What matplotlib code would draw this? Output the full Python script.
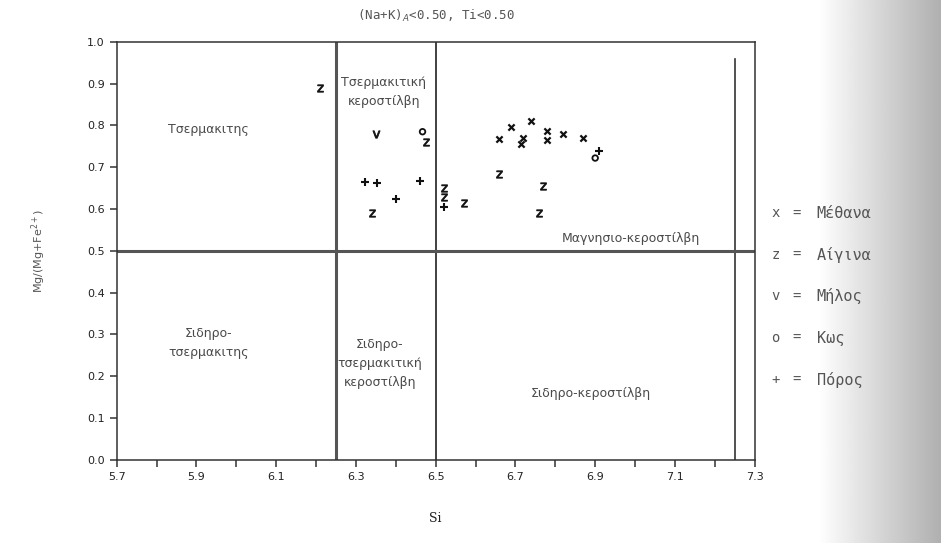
import numpy as np
import matplotlib
matplotlib.use("Agg")
import matplotlib.pyplot as plt

# sample points (Si, Mg/(Mg+Fe2+))
methana_si = [6.66, 6.69, 6.74, 6.72, 6.715, 6.78, 6.78, 6.82, 6.87]
methana_mg = [0.768, 0.797, 0.81, 0.77, 0.755, 0.787, 0.766, 0.78, 0.77]
aigina_si = [6.21, 6.475, 6.34, 6.52, 6.52, 6.57, 6.66, 6.77, 6.76]
aigina_mg = [0.89, 0.76, 0.59, 0.65, 0.63, 0.615, 0.684, 0.655, 0.59]
milos_si = [6.35]
milos_mg = [0.78]
kos_si = [6.467, 6.90]
kos_mg = [0.785, 0.722]
poros_si = [6.323, 6.353, 6.46, 6.40, 6.52, 6.91]
poros_mg = [0.665, 0.663, 0.667, 0.624, 0.605, 0.74]

# field boundaries
si_bounds = [6.25, 6.5, 7.25]
mg_bound = 0.5

field_names = ["Τσερμακιτης", "Σιδηρο-\nτσερμακιτης", "Τσερμακιτική\nκεροστίλβη",
               "Σιδηρο-\nτσερμακιτική\nκεροστίλβη", "Μαγνησιο-κεροστίλβη",
               "Σιδηρο-κεροστίλβη"]
field_si = [5.93, 5.93, 6.37, 6.36, 6.99, 6.89]
field_mg = [0.79, 0.28, 0.88, 0.23, 0.53, 0.16]

legend_syms = ["x", "z", "v", "o", "+"]
legend_names = ["Μέθανα", "Αίγινα", "Μήλος", "Κως", "Πόρος"]

ink = "#333333"
txt = "#4a4a4a"

fig = plt.figure(figsize=(9.41, 5.43), dpi=100)

# scanner shadow on the right edge
bg = fig.add_axes([0.87, 0, 0.13, 1], zorder=-5)
grad = np.linspace(1.0, 0.78, 200) ** 1.5
bg.imshow(np.tile(grad, (10, 1)), cmap="gray", vmin=0, vmax=1, aspect="auto",
          extent=[0, 1, 0, 1])
bg.axis("off")

ax = fig.add_axes([0.124, 0.153, 0.678, 0.77])
ax.set_xlim(5.7, 7.3)
ax.set_ylim(0.0, 1.0)

for s in ax.spines.values():
    s.set_color(ink)
    s.set_linewidth(1.1)

ax.axvline(si_bounds[0], color="#555555", lw=2.2)
ax.axvline(si_bounds[1], color=ink, lw=1.3)
ax.plot([si_bounds[2], si_bounds[2]], [0, 0.96], color=ink, lw=1.2)
ax.axhline(mg_bound, color="#555555", lw=2.2)

ax.scatter(methana_si, methana_mg, marker="x", s=20, color="#111111", linewidths=1.6)
ax.scatter(aigina_si, aigina_mg, marker=r"$\mathrm{z}$", s=28, color="#111111",
           linewidths=0.6)
ax.scatter(milos_si, milos_mg, marker=r"$\mathrm{v}$", s=28, color="#111111",
           linewidths=0.6)
ax.scatter(kos_si, kos_mg, marker="o", s=16, facecolors="none",
           edgecolors="#111111", linewidths=1.3)
ax.scatter(poros_si, poros_mg, marker="+", s=40, color="#111111", linewidths=1.5)

for name, xs, ys in zip(field_names, field_si, field_mg):
    ax.text(xs, ys, name, ha="center", va="center", fontsize=9,
            color=txt, linespacing=1.6)

ax.set_xticks(np.arange(5.7, 7.31, 0.1), minor=True)
ax.set_xticks(np.arange(5.7, 7.31, 0.2))
ax.set_xticklabels(["%.1f" % v for v in np.arange(5.7, 7.31, 0.2)])
ax.set_yticks(np.arange(0, 1.01, 0.1))
ax.set_yticklabels(["%.1f" % v for v in np.arange(0, 1.01, 0.1)])
ax.tick_params(which="both", direction="out", length=5, width=1.1, color=ink,
               labelsize=8, labelcolor="#222222")

ax.set_xlabel("Si", fontsize=9, color="#222222", labelpad=22, family="serif")
ax.set_ylabel("Mg/(Mg+Fe$^{2+}$)", fontsize=8, color="#555555", labelpad=28)
ax.set_title("(Na+K)$_A$<0.50, Ti<0.50", fontsize=9, color="#555555",
             family="DejaVu Sans Mono", pad=16)

for i, (sym, name) in enumerate(zip(legend_syms, legend_names)):
    yy = 0.607 - i * 0.0765
    fig.text(0.824, yy, sym, fontsize=10, color="#555555", ha="center",
             va="center", family="DejaVu Sans Mono")
    fig.text(0.847, yy, "=", fontsize=10, color="#555555", ha="center",
             va="center", family="DejaVu Sans Mono")
    fig.text(0.868, yy, name, fontsize=11, color="#555555", ha="left",
             va="center", family="DejaVu Sans Mono")

fig.savefig("out.png", dpi=100)
